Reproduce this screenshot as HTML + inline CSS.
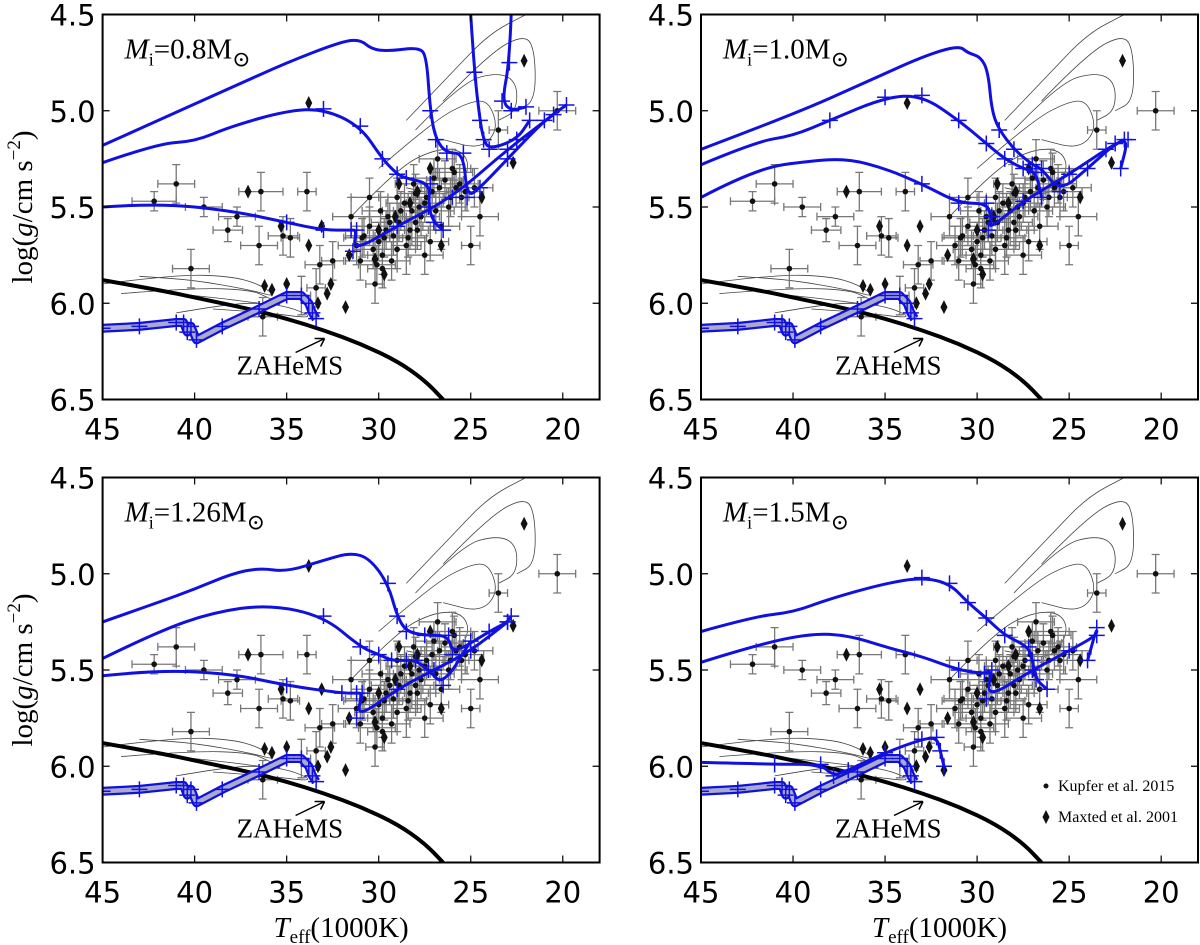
<!DOCTYPE html>
<html><head><meta charset="utf-8">
<style>
body{margin:0;background:#fff;}
svg{display:block;}
.tk{font-family:"DejaVu Sans","Liberation Sans",sans-serif;font-size:29px;fill:#000;}
.sf{font-family:"Liberation Serif","DejaVu Serif",serif;fill:#000;}
</style></head>
<body>
<svg id="fig" width="1200" height="945" viewBox="0 0 1200 945" xmlns="http://www.w3.org/2000/svg"></svg>
<script>
// ---- data ----
const xTicks = [45,40,35,30,25,20];
const yTicks = [4.5,5.0,5.5,6.0,6.5];
const panelLabels = ["0.8","1.0","1.26","1.5"];
// observed dots: [Teff, logg, errT, errg]
const dotT  = [42.2,41,39.5,38.2,37.7,36.4,36.5,35.2,34.8,33.9,40.2,36.3,34.2,33.2,30.5,29.5,29,28,27,26,25.5,24.5,23.5,25,27.5,28.5,29.8,30.2,31,32.5,33.4,28,27.8,28.8,29.6,30,26.6,26.8,25.8,29.2,28.3,27.2,29.8,30.5,27.5,20.3,31.5,30.8,26.2,24.8,
               29.9,29.4,28.6,28.1,27.7,27.1,26.4,25.9,25.3,30.3,29.0,28.4,27.9,26.9,26.1,30.9,29.7,28.9,28.2,27.4,26.7,25.6,31.2,30.1,29.3];
const dotG  = [5.47,5.38,5.5,5.62,5.55,5.42,5.7,5.65,5.66,5.42,5.82,6.07,5.96,5.8,5.6,5.55,5.45,5.43,5.35,5.3,5.45,5.55,5.1,5.7,5.75,5.7,5.75,5.9,5.78,5.78,5.92,5.58,5.5,5.52,5.62,5.68,5.6,5.25,5.4,5.65,5.62,5.68,5.82,5.45,5.48,5.0,5.55,5.65,5.5,5.4,
               5.52,5.58,5.48,5.38,5.55,5.42,5.36,5.32,5.42,5.72,5.72,5.66,5.62,5.52,5.45,5.66,5.66,5.58,5.52,5.45,5.4,5.38,5.7,5.8,5.78];
const dotET = [1.2,1,1,0.8,1,1.2,1,0.8,0.5,0.5,1,0.8,0.5,0.8,1,1,1,1,1,1,1,1,0.5,0.5,1,0.8,0.8,0.5,0.8,0.6,0.5,1,1,1,1,1,1,1,1,1,1,1,0.8,1,1,1.0,1,1,1,1,
               1,1,1,1,1,1,1,1,1,1,1,1,1,1,1,1,1,1,1,1,1,1,1,1,1];
const dotEG = [0.05,0.1,0.05,0.06,0.05,0.1,0.1,0.1,0.1,0.1,0.1,0.1,0.1,0.1,0.1,0.1,0.1,0.1,0.1,0.1,0.1,0.1,0.1,0.1,0.1,0.15,0.1,0.1,0.1,0.1,0.1,0.12,0.1,0.1,0.1,0.1,0.12,0.1,0.1,0.1,0.1,0.1,0.1,0.1,0.1,0.1,0.1,0.1,0.1,0.1,
               0.1,0.1,0.1,0.1,0.1,0.1,0.1,0.1,0.1,0.1,0.1,0.1,0.1,0.1,0.1,0.1,0.1,0.1,0.1,0.1,0.1,0.1,0.1,0.1,0.1];
// Maxted diamonds
const diaT = [33.8,37.1,35.3,33.8,33.1,22.1,22.7,24.4,26.6,28.9,30.2,29.7,30,31.6,32.6,33.3,32.8,31.8,35,35.8,36.2,27.9,28.3,29.1,27.2];
const diaG = [4.96,5.42,5.6,5.7,5.6,4.74,5.27,5.45,5.7,5.38,5.77,5.85,5.62,5.75,5.9,6.0,5.95,6.02,5.9,5.93,5.91,5.42,5.48,5.55,5.3];
// ZAHeMS
const zamsT = [45,42,40,37,35,33,31,29,27.5,26.5];
const zamsG = [5.88,5.93,5.97,6.03,6.08,6.14,6.21,6.3,6.4,6.5];
// blue tracks per panel
const tracks = [
 [ // 0.8
  {T:[45,42,38,35,32,31,30.4,29.5,27.8,27.4,27.2,26.9,26.3,25.4,25.2,24.5,23,21,19.8],G:[5.18,5.05,4.88,4.75,4.64,4.63,4.68,4.69,4.67,4.72,5.0,5.15,5.22,5.22,5.45,5.4,5.25,5.05,4.97]},
  {T:[45,42,40,38,35,33,31,29.8,29,28.5,27.2,27.3,27,26.5],G:[5.27,5.17,5.16,5.08,5.0,4.99,5.08,5.25,5.33,5.35,5.38,5.5,5.58,5.62]},
  {T:[45,42,38,35,33,31.5,31.2,31.4,29,26,23,20.5],G:[5.5,5.48,5.52,5.58,5.62,5.62,5.62,5.73,5.6,5.45,5.2,5.02]},
  {T:[25,24.8,24.5,24.3,24.0,22.5,21.8],G:[4.5,4.8,5.05,5.15,5.2,5.15,5.05]},
  {T:[22.8,22.9,23.3,22.8,22.0],G:[4.5,4.75,4.95,5.0,4.98]}
 ],
 [ // 1.0
  {T:[45,40,36,33,31,30.5,29.8,29.4,29.2,28.8,28,27,26.5,25.5,24,22.5,21.8,22.2],G:[5.2,5.02,4.85,4.72,4.66,4.7,4.72,4.8,5.0,5.1,5.2,5.28,5.3,5.42,5.3,5.17,5.15,5.3]},
  {T:[45,42,40,38,35,33,31,29.5,28.5,27.5,26.8,26.5],G:[5.28,5.16,5.13,5.05,4.93,4.92,5.05,5.17,5.25,5.3,5.32,5.45]},
  {T:[45,42,39,37,35,33,31,29.5,29.2,29.4,27.5,25,23,22],G:[5.45,5.3,5.26,5.25,5.3,5.38,5.48,5.48,5.55,5.62,5.47,5.33,5.2,5.15]}
 ],
 [ // 1.26
  {T:[45,42,40,38,36.5,35,33,31.5,30.5,29.5,29,28.5,27.5,26.2,26,24,23,22.8],G:[5.25,5.15,5.08,5.0,4.97,4.99,4.93,4.89,4.92,5.05,5.22,5.3,5.32,5.32,5.42,5.3,5.25,5.22]},
  {T:[45,42,39,36,33,31,30,29.3,28.5,28,27.3,26.5,25],G:[5.44,5.3,5.2,5.16,5.22,5.38,5.42,5.45,5.45,5.45,5.5,5.58,5.35]},
  {T:[45,42,38,35,32,31.2,30.9,31.2,29,27,25,23],G:[5.53,5.5,5.52,5.58,5.62,5.62,5.62,5.75,5.6,5.5,5.4,5.25]}
 ],
 [ // 1.5
  {T:[45,42,40,38,35,33,31.5,30.5,29.5,28.5,27.2,27,26.8,26.2],G:[5.3,5.22,5.2,5.13,5.05,5.02,5.05,5.15,5.23,5.32,5.38,5.45,5.55,5.6]},
  {T:[45,42,39,37,35,33,31,29.6,29.2,29.5,27,25,23.5,23.5,24],G:[5.46,5.37,5.31,5.32,5.38,5.43,5.5,5.52,5.5,5.65,5.5,5.4,5.32,5.28,5.45]},
  {T:[45,41,38.5,37.8,37,35,33,32.2,32,31.8],G:[5.98,5.99,5.99,6.05,6.02,5.93,5.86,5.85,5.92,6.0]}
 ]
];
// lower thick band track (shared)
const bandT = [45,43,41,40.6,40.4,40.2,39.9,38.5,36.5,35,34.2,33.8,33.6,33.4];
const bandG = [6.13,6.12,6.1,6.1,6.15,6.12,6.19,6.12,6.03,5.96,5.96,6.0,6.05,6.08];
// thin grey model tracks (shared)
const greyTr = [
 {T:[45,41,38,36.5,35.5,37,40,43],G:[5.9,5.85,5.86,5.9,5.97,5.93,5.88,5.86]},
 {T:[44,40,37,36,35,38,42],G:[5.95,5.92,5.93,5.97,6.02,5.98,5.94]},
 {T:[41,38,36,34.5,33.5,36,39],G:[6.05,6.0,6.0,6.03,6.08,6.05,6.03]},
 {T:[31.5,29,27,25.5,25,26,28.5],G:[5.55,5.3,5.2,5.2,5.3,5.45,5.4]},
 {T:[30,27,25,24,23.5,24.5,26.5],G:[5.3,5.05,4.95,4.95,5.1,5.2,5.15]},
 {T:[28,25.5,23.5,22.5,22.5,23.5],G:[5.1,4.85,4.8,4.85,5.0,5.05]},
 {T:[28.5,26,24,22],G:[5.05,4.8,4.6,4.5]},
 {T:[26.5,24,22,21.5,21.5,22.5],G:[4.95,4.7,4.6,4.7,4.95,5.0]}
];
// ---- drawing ----
const NS="http://www.w3.org/2000/svg";
const svg=document.getElementById('fig');
const panels=[{L:102.6,T:14.5},{L:701,T:14.5},{L:102.6,T:477.5},{L:701,T:477.5}];
const W=497,H=385,XMIN=18,XMAX=45,YMIN=4.5,YMAX=6.5;
function mk(tag,attrs,parent){const e=document.createElementNS(NS,tag);for(const k in attrs)e.setAttribute(k,attrs[k]);(parent||svg).appendChild(e);return e;}
function smooth(pts){ // quadratic smoothing through midpoints
  if(pts.length<3)return 'M'+pts.map(p=>p.join(',')).join('L');
  let d='M'+pts[0][0].toFixed(1)+','+pts[0][1].toFixed(1);
  for(let i=1;i<pts.length-1;i++){
    const mx=(pts[i][0]+pts[i+1][0])/2,my=(pts[i][1]+pts[i+1][1])/2;
    d+=`Q${pts[i][0].toFixed(1)},${pts[i][1].toFixed(1)} ${mx.toFixed(1)},${my.toFixed(1)}`;
  }
  const l=pts[pts.length-1];d+=`L${l[0].toFixed(1)},${l[1].toFixed(1)}`;return d;
}
panels.forEach((p,pi)=>{
  const xs=t=>p.L+(XMAX-t)/(XMAX-XMIN)*W;
  const ys=g=>p.T+(g-YMIN)/(YMAX-YMIN)*H;
  const g=mk('g',{});
  
  
  const cid='clip'+pi;
  const cp=mk('clipPath',{id:cid},g);mk('rect',{x:p.L,y:p.T,width:W,height:H},cp);
  const plot=mk('g',{'clip-path':'url(#'+cid+')'},g);
  const pts=(T,G)=>T.map((t,i)=>[xs(t),ys(G[i])]);
  greyTr.forEach(tr=>{const e=mk('path',{d:smooth(pts(tr.T,tr.G)),fill:'none',stroke:'#444','stroke-width':0.8},plot);
    
    });
  dotT.forEach((t,i)=>{
    const x=xs(t),y=ys(dotG[i]),dx=xs(t-dotET[i])-x,dy=ys(dotG[i]+dotEG[i])-y,c=4;
    const d=`M${x-dx},${y}H${x+dx}M${x},${y-dy}V${y+dy}M${x-dx},${y-c}V${y+c}M${x+dx},${y-c}V${y+c}M${x-c},${y-dy}H${x+c}M${x-c},${y+dy}H${x+c}`;
    const e=mk('path',{d:d,stroke:'#777','stroke-width':1.3,fill:'none'},plot);
    
    
  });
  dotT.forEach((t,i)=>{const e=mk('circle',{cx:xs(t),cy:ys(dotG[i]),r:2.8,fill:'#111'},plot);
    
    });
  diaT.forEach((t,i)=>{const x=xs(t),y=ys(diaG[i]);
    const e=mk('polygon',{points:`${x},${y-7} ${x+3.5},${y} ${x},${y+7} ${x-3.5},${y}`,fill:'#111'},plot);
    
    });
  const z=mk('path',{d:smooth(pts(zamsT,zamsG)),fill:'none',stroke:'#000','stroke-width':4},plot);
  
  
  mk('polyline',{points:pts(bandT,bandG).map(q=>q.join(',')).join(' '),fill:'none',stroke:'#1010e0','stroke-width':9,'stroke-linejoin':'round'},plot);
  const b=mk('polyline',{points:pts(bandT,bandG).map(q=>q.join(',')).join(' '),fill:'none',stroke:'#aaaacc','stroke-width':4.5,'stroke-linejoin':'round'},plot);
  
  
  const crosses=(T,G,step)=>{T.forEach((t,i)=>{if(i%step)return;const x=xs(t),y=ys(G[i]);
      mk('path',{d:`M${x-8},${y}H${x+8}M${x},${y-8}V${y+8}`,stroke:'#1010e0','stroke-width':1.5},plot);});};
  crosses(bandT,bandG,1);
  tracks[pi].forEach(tr=>{
    const e=mk('path',{d:smooth(pts(tr.T,tr.G)),fill:'none',stroke:'#1010e0','stroke-width':3,'stroke-linejoin':'round'},plot);
    
    
    crosses(tr.T.slice(-9),tr.G.slice(-9),1);
  });
  mk('rect',{x:p.L,y:p.T,width:W,height:H,fill:'none',stroke:'#000','stroke-width':2},g);
  xTicks.forEach(t=>{const x=xs(t);
    mk('path',{d:`M${x},${p.T+H}v-7M${x},${p.T}v7`,stroke:'#000','stroke-width':1.2},g);
    const tx=mk('text',{x:x,y:p.T+H+40,'text-anchor':'middle',class:'tk'},g);tx.textContent=t;
    
    });
  yTicks.forEach(v=>{const y=ys(v);
    mk('path',{d:`M${p.L},${y}h7M${p.L+W},${y}h-7`,stroke:'#000','stroke-width':1.2},g);
    const tx=mk('text',{x:p.L-7,y:y+11,'text-anchor':'end',class:'tk'},g);tx.textContent=v.toFixed(1);
    
    });
  const lab=mk('text',{x:p.L+22,y:p.T+44,class:'sf','font-size':29},g);
  lab.innerHTML=`<tspan font-style="italic">M</tspan><tspan font-size="18" dy="7">i</tspan><tspan dy="-7">=${panelLabels[pi]}M</tspan><tspan font-size="22" dy="8">⊙</tspan>`;
  
  
  const za=mk('text',{x:p.L+134,y:p.T+360,class:'sf','font-size':27},g);za.textContent='ZAHeMS';
  
  
  mk('path',{d:`M${p.L+193},${p.T+338}L${p.L+222},${p.T+324}M${p.L+222},${p.T+324}l-10,0M${p.L+222},${p.T+324}l-4,8`,stroke:'#000','stroke-width':1.5,fill:'none'},g);
  if(pi%2===0){
    const yt=mk('text',{x:0,y:0,class:'sf','font-size':29,'text-anchor':'middle',transform:`translate(32,${p.T+H/2}) rotate(-90)`},g);
    yt.innerHTML='log(<tspan font-style="italic">g</tspan>/cm s<tspan font-size="19" dy="-12">−2</tspan><tspan dy="12">)</tspan>';
    
    
  }
  if(pi>=2){
    const xt=mk('text',{x:p.L+W/2-10,y:937,class:'sf','font-size':29,'text-anchor':'middle'},g);
    xt.innerHTML='<tspan font-style="italic">T</tspan><tspan font-size="19" dy="6">eff</tspan><tspan dy="-6">(1000K)</tspan>';
    
    
  }
});
const lg=mk('g',{});


mk('circle',{cx:1046,cy:786,r:2.5,fill:'#111'},lg);
const l1=mk('text',{x:1058,y:791,class:'sf','font-size':16},lg);l1.textContent='Kupfer et al. 2015';


mk('polygon',{points:'1046,810 1049.5,817 1046,824 1042.5,817',fill:'#111'},lg);
const l2=mk('text',{x:1058,y:822,class:'sf','font-size':16},lg);l2.textContent='Maxted et al. 2001';


</script>
</body></html>
